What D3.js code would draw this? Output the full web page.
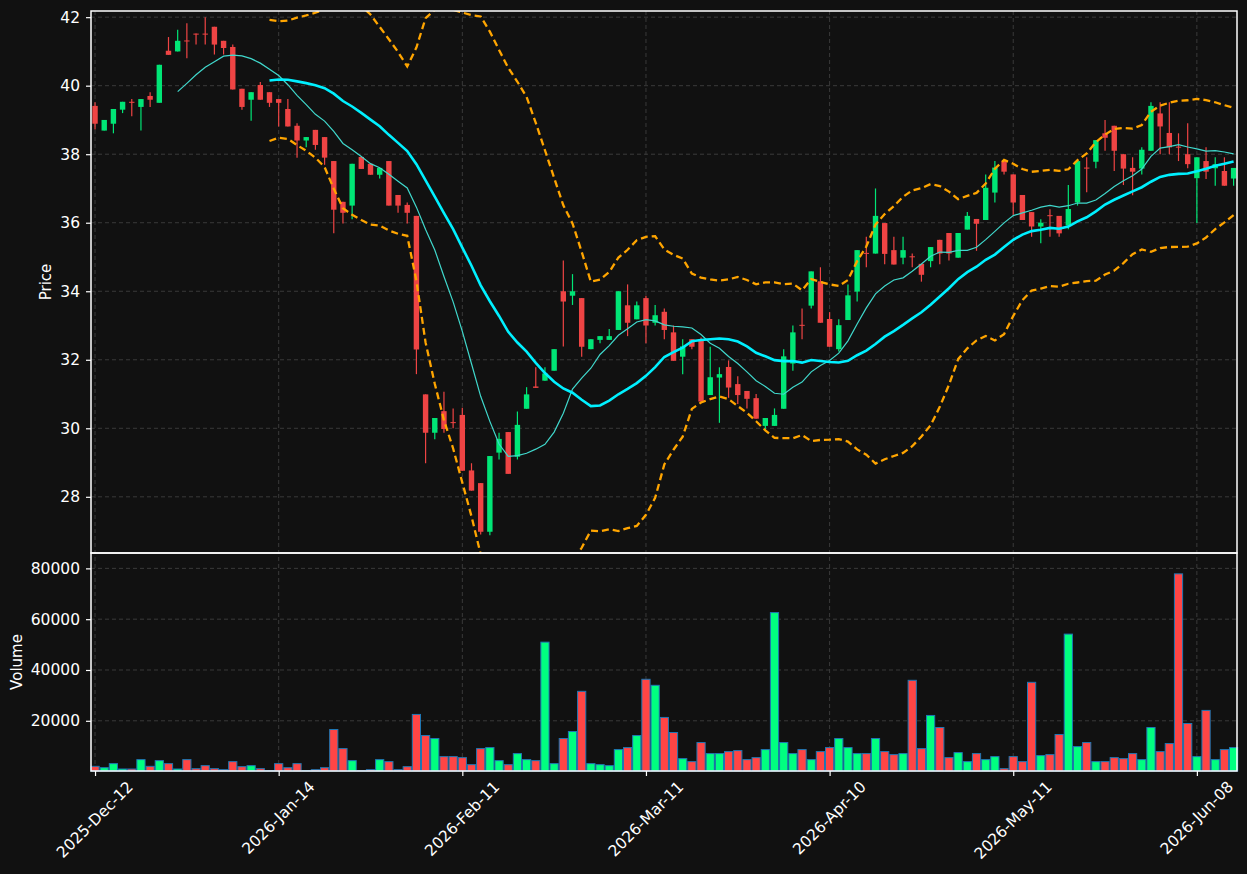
<!DOCTYPE html>
<html>
<head>
<meta charset="utf-8">
<script src="https://cdn.jsdelivr.net/npm/d3@7"></script>
<style>
  html, body { margin: 0; padding: 0; background: #111111; }
  svg { display: block; }
  text { font-family: "DejaVu Sans", sans-serif; fill: #ffffff; }
</style>
</head>
<body>
<svg id="chart" width="1247" height="874"></svg>
<script>
// daily candles, index 0 = 2025-Dec-12
const opens = [39.41, 38.69, 38.89, 39.30, 39.53, 39.38, 39.70, 39.50, 41.02, 41.00,
  41.32, 41.52, 41.52, 41.72, 41.31, 41.13, 39.91, 39.59, 40.02, 39.81,
  39.61, 39.32, 38.83, 38.40, 38.71, 38.50, 37.80, 36.61, 36.50, 37.92,
  37.72, 37.40, 37.80, 36.81, 36.52, 36.20, 30.99, 29.87, 30.50, 30.18,
  30.39, 28.77, 28.40, 26.98, 29.29, 29.89, 29.17, 30.57, 31.22, 31.39,
  31.68, 34.00, 33.87, 33.80, 32.31, 32.58, 32.58, 32.87, 33.59, 33.18,
  33.80, 33.08, 33.40, 32.80, 32.09, 32.60, 32.60, 30.97, 31.48, 31.79,
  31.29, 31.09, 30.88, 30.07, 30.07, 30.57, 31.89, 33.02, 33.58, 34.29,
  33.19, 32.31, 33.16, 33.99, 35.12, 35.10, 35.99, 35.20, 34.98, 35.02,
  34.80, 34.88, 35.50, 35.70, 34.98, 35.80, 36.11, 36.08, 36.88, 37.80,
  37.41, 36.81, 36.31, 35.89, 36.22, 36.20, 35.92, 36.59, 37.61, 37.78,
  38.61, 38.83, 38.00, 37.60, 37.58, 38.10, 39.19, 38.62, 38.22, 38.00,
  37.30, 37.80, 37.59, 37.51, 37.29];
const highs = [39.52, 39.00, 39.32, 39.53, 39.61, 39.61, 39.81, 40.61, 41.42, 41.63,
  41.82, 41.52, 42.00, 41.72, 41.31, 41.20, 39.91, 39.81, 40.11, 39.81,
  39.61, 39.61, 38.90, 38.50, 38.71, 38.50, 37.80, 36.61, 37.72, 37.92,
  37.72, 37.60, 37.80, 36.81, 36.59, 36.20, 30.99, 30.30, 31.07, 30.58,
  30.60, 28.98, 28.40, 29.19, 29.87, 29.89, 30.49, 31.20, 31.78, 31.78,
  32.31, 34.90, 34.50, 33.80, 32.60, 32.69, 32.90, 34.00, 34.20, 33.70,
  33.87, 33.60, 33.50, 33.00, 32.60, 32.60, 32.65, 32.38, 31.78, 31.98,
  31.52, 31.09, 31.00, 30.30, 30.58, 32.31, 33.00, 33.50, 34.58, 34.70,
  33.39, 33.18, 34.20, 35.20, 35.59, 37.00, 35.99, 35.59, 35.59, 35.10,
  34.80, 35.29, 35.50, 35.70, 35.70, 36.31, 36.11, 37.41, 37.80, 37.80,
  37.41, 36.81, 36.31, 36.10, 36.39, 36.20, 37.10, 37.80, 37.91, 38.41,
  39.00, 38.83, 38.00, 37.91, 38.20, 39.52, 39.52, 39.52, 38.61, 38.90,
  37.91, 38.20, 37.91, 37.91, 37.60];
const lows = [38.72, 38.69, 38.61, 39.20, 39.11, 38.69, 39.38, 39.50, 40.90, 41.00,
  40.80, 41.20, 41.20, 40.91, 40.91, 39.89, 39.30, 38.98, 39.59, 39.38,
  38.81, 38.81, 37.90, 38.20, 38.13, 37.69, 35.69, 35.98, 36.10, 37.57,
  37.40, 37.29, 36.50, 36.29, 35.98, 31.58, 28.98, 29.68, 29.87, 30.00,
  28.76, 28.18, 26.90, 26.88, 29.09, 28.67, 29.09, 30.57, 31.18, 31.39,
  31.68, 32.39, 33.60, 32.09, 32.31, 32.48, 32.58, 32.87, 32.69, 33.18,
  32.48, 33.00, 32.60, 31.97, 31.58, 32.31, 30.78, 30.97, 30.16, 30.89,
  30.71, 30.58, 30.28, 29.97, 30.07, 30.57, 31.68, 32.60, 33.50, 33.08,
  32.38, 32.24, 33.16, 33.70, 34.70, 35.10, 34.79, 34.78, 34.79, 34.70,
  34.28, 34.70, 34.79, 34.90, 34.98, 35.80, 35.18, 36.08, 36.59, 37.41,
  36.23, 36.08, 35.59, 35.40, 35.59, 35.59, 35.81, 36.50, 36.89, 37.59,
  38.10, 37.51, 37.10, 36.80, 37.41, 38.10, 38.00, 38.00, 37.80, 37.59,
  35.99, 37.28, 37.08, 37.08, 37.08];
const closes = [38.89, 39.00, 39.32, 39.53, 39.50, 39.61, 39.59, 40.61, 40.90, 41.31,
  41.30, 41.50, 41.50, 41.20, 41.10, 39.89, 39.38, 39.81, 39.59, 39.50,
  39.50, 38.81, 38.40, 38.50, 38.27, 37.90, 36.38, 36.29, 37.72, 37.57,
  37.40, 37.60, 36.50, 36.50, 36.29, 32.30, 29.87, 30.30, 29.98, 30.17,
  28.76, 28.18, 26.98, 29.19, 29.69, 28.67, 30.10, 30.99, 31.18, 31.60,
  32.31, 33.70, 34.00, 32.38, 32.60, 32.69, 32.69, 34.00, 33.08, 33.59,
  33.00, 33.30, 32.87, 31.97, 32.39, 32.38, 30.78, 31.49, 31.58, 31.19,
  30.97, 30.86, 30.28, 30.30, 30.39, 32.10, 32.80, 33.00, 34.58, 33.08,
  32.38, 33.01, 33.88, 35.20, 35.10, 36.20, 35.09, 34.78, 35.20, 35.00,
  34.48, 35.29, 35.10, 35.10, 35.70, 36.20, 35.97, 37.02, 37.61, 37.49,
  36.59, 36.08, 35.89, 36.00, 36.20, 35.69, 36.40, 37.80, 37.59, 38.41,
  38.48, 38.10, 37.58, 37.49, 38.13, 39.41, 38.81, 38.20, 38.20, 37.71,
  37.91, 37.49, 37.71, 37.08, 37.60];
const volumes = [2080, 1550, 3140, 1030, 1030, 4720, 2080, 4320, 3140, 1030,
  4720, 1160, 2350, 1160, 760, 3930, 1950, 2350, 1160, 370,
  3140, 1550, 3140, 370, 760, 1550, 16570, 9060, 4320, 370,
  760, 4720, 3930, 760, 1950, 22500, 14200, 13020, 5900, 5900,
  5500, 2740, 9060, 9460, 4320, 2740, 7090, 4720, 4320, 50960,
  3140, 13020, 15780, 31600, 3140, 2740, 2350, 8670, 9460, 14200,
  36340, 33970, 21320, 15390, 5110, 3930, 11440, 7090, 7090, 7880,
  8270, 4720, 5510, 8670, 62600, 11440, 7090, 8670, 4720, 7880,
  9460, 13020, 9460, 7090, 7090, 13020, 7880, 6690, 7090, 35940,
  9060, 22100, 17360, 5510, 7480, 3930, 7090, 4720, 5900, 1160,
  5900, 3930, 35150, 6300, 6690, 14600, 54120, 9850, 11440, 3930,
  3930, 5510, 5110, 7090, 4720, 17360, 7880, 11040, 77840, 18940,
  5900, 24090, 4720, 8670, 9460];

const tickIndex = [0, 20, 40, 60, 80, 100, 120];
const tickLabels = ["2025-Dec-12", "2026-Jan-14", "2026-Feb-11", "2026-Mar-11",
  "2026-Apr-10", "2026-May-11", "2026-Jun-08"];
const priceTicks = [28, 30, 32, 34, 36, 38, 40, 42];
const volumeTicks = [20000, 40000, 60000, 80000];

const upColor = "#00e676";
const downColor = "#ef4444";
const volUp = "#00ff80";
const volDown = "#ff4545";

const data = closes.map((c, i) => ({
  i,
  o: opens[i],
  h: highs[i],
  l: lows[i],
  c,
  v: volumes[i],
}));

// rolling mean / bollinger of the closes
function rolling(n, k) {
  return data.map((d, i) => {
    if (i < n - 1) return null;
    const w = closes.slice(i - n + 1, i + 1);
    const m = d3.mean(w);
    const sd = Math.sqrt(d3.mean(w, (x) => (x - m) * (x - m)));
    return m + k * sd;
  });
}
const ma10 = rolling(10, 0);
const ma20 = rolling(20, 0);
const bbUp = rolling(20, 2);
const bbLow = rolling(20, -2);

const left = 91, right = 1237;
const pTop = 11, pBottom = 553, vBottom = 771;

const svg = d3.select("#chart");
svg.append("rect").attr("width", 1247).attr("height", 874).attr("fill", "#111111");

const x = d3.scaleLinear().domain([-0.44, 124.37]).range([left, right]);
const y = d3.scaleLinear().domain([26.36, 42.18]).range([pBottom, pTop]);
const yv = d3.scaleLinear().domain([240, 86050]).range([vBottom, pBottom]);

svg.append("clipPath").attr("id", "pclip")
  .append("rect").attr("x", left).attr("y", pTop)
  .attr("width", right - left).attr("height", pBottom - pTop);

const gridColor = "#3a3a3a";

// grid
const grid = svg.append("g");
grid.selectAll(".gy").data(priceTicks).join("line")
  .attr("x1", left).attr("x2", right)
  .attr("y1", (d) => y(d)).attr("y2", (d) => y(d));
grid.selectAll(".gv").data(volumeTicks).join("line")
  .attr("x1", left).attr("x2", right)
  .attr("y1", (d) => yv(d)).attr("y2", (d) => yv(d));
grid.selectAll(".gx").data(tickIndex).join("line")
  .attr("x1", (d) => x(d)).attr("x2", (d) => x(d))
  .attr("y1", pTop).attr("y2", vBottom);
grid.selectAll("line")
  .attr("stroke", gridColor).attr("stroke-width", 1)
  .attr("stroke-dasharray", "4,3");

// candles
const candles = svg.append("g").attr("clip-path", "url(#pclip)");
const bw = 5.4;
candles.selectAll(".wick").data(data).join("line")
  .attr("x1", (d) => x(d.i)).attr("x2", (d) => x(d.i))
  .attr("y1", (d) => y(d.h)).attr("y2", (d) => y(d.l))
  .attr("stroke", (d) => (d.c >= d.o ? upColor : downColor))
  .attr("stroke-width", 1.2);
candles.selectAll(".body").data(data).join("rect")
  .attr("x", (d) => x(d.i) - bw / 2)
  .attr("width", bw)
  .attr("y", (d) => y(Math.max(d.o, d.c)))
  .attr("height", (d) => Math.max(1, Math.abs(y(d.o) - y(d.c))))
  .attr("fill", (d) => (d.c >= d.o ? upColor : downColor));

// overlays
const line = (arr) => d3.line()
  .defined((d, i) => arr[i] !== null)
  .x((d) => x(d.i))
  .y((d, i) => y(arr[i]))(data);

[bbUp, bbLow].forEach((band) => {
  candles.append("path").attr("d", line(band))
    .attr("fill", "none").attr("stroke", "#ffa500").attr("stroke-width", 2.3)
    .attr("stroke-dasharray", "7,4");
});
candles.append("path").attr("d", line(ma10))
  .attr("fill", "none").attr("stroke", "#40d8cc").attr("stroke-width", 1.2);
candles.append("path").attr("d", line(ma20))
  .attr("fill", "none").attr("stroke", "#00f0ff").attr("stroke-width", 2.6);

// volume
const vw = 8.2;
svg.append("g").selectAll("rect").data(data).join("rect")
  .attr("x", (d) => x(d.i) - vw / 2)
  .attr("width", vw)
  .attr("y", (d) => yv(d.v))
  .attr("height", (d) => vBottom - yv(d.v))
  .attr("fill", (d) => (d.c >= d.o ? volUp : volDown))
  .attr("stroke", "#1f77b4").attr("stroke-width", 1);

// axes
const pAxis = svg.append("g").attr("transform", `translate(${left},0)`)
  .call(d3.axisLeft(y).tickValues(priceTicks).tickSize(5).tickPadding(6)
    .tickFormat(d3.format("d")));
const vAxis = svg.append("g").attr("transform", `translate(${left},0)`)
  .call(d3.axisLeft(yv).tickValues(volumeTicks).tickSize(5).tickPadding(6)
    .tickFormat(d3.format("d")));
const xAxis = svg.append("g").attr("transform", `translate(0,${vBottom})`)
  .call(d3.axisBottom(x).tickValues(tickIndex).tickSize(5).tickFormat(""));
[pAxis, vAxis, xAxis].forEach((g) => {
  g.select(".domain").remove();
  g.selectAll("line").attr("stroke", "#ffffff").attr("stroke-width", 1.2);
  g.selectAll("text").attr("fill", "#ffffff").style("font-size", "15.5px")
    .style("font-family", "DejaVu Sans, sans-serif");
});

// rotated date labels, box centred under the tick
const xl = svg.append("g");
tickIndex.forEach((t, k) => {
  const txt = xl.append("text").text(tickLabels[k])
    .style("font-size", "15.5px")
    .attr("text-anchor", "middle")
    .attr("dominant-baseline", "central");
  const len = txt.node().getComputedTextLength();
  const half = (len + 15) * Math.SQRT1_2 / 2;
  txt.attr("transform", `translate(${x(t)},${vBottom + 8 + half}) rotate(-45)`);
});

// frames
svg.append("rect").attr("x", left).attr("y", pTop)
  .attr("width", right - left).attr("height", pBottom - pTop)
  .attr("fill", "none").attr("stroke", "#ffffff").attr("stroke-width", 1.5);
svg.append("rect").attr("x", left).attr("y", pBottom)
  .attr("width", right - left).attr("height", vBottom - pBottom)
  .attr("fill", "none").attr("stroke", "#ffffff").attr("stroke-width", 1.5);

svg.append("text").text("Price").style("font-size", "15px")
  .attr("text-anchor", "middle")
  .attr("transform", `translate(51,${(pTop + pBottom) / 2}) rotate(-90)`);
svg.append("text").text("Volume").style("font-size", "15px")
  .attr("text-anchor", "middle")
  .attr("transform", `translate(22,${(pBottom + vBottom) / 2}) rotate(-90)`);
</script>
</body>
</html>
